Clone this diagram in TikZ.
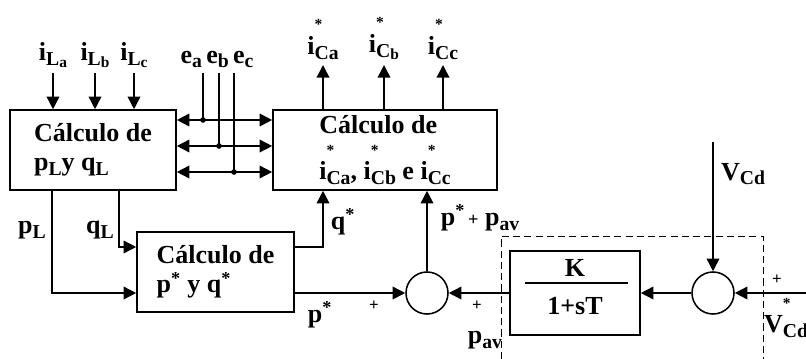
\documentclass[tikz,border=0pt]{standalone}
\usepackage{fontspec}
\setmainfont{Liberation Serif}
\usetikzlibrary{arrows.meta,calc}

% subscripts, second level subscripts and stars as printed in the figure
\newcommand{\lo}[1]{\raisebox{-0.4ex}{\fontsize{14}{14}\selectfont #1}}
\newcommand{\lolo}[1]{\raisebox{-0.25ex}{\fontsize{11}{11}\selectfont #1}}
\newcommand{\hi}{\raisebox{0.95em}{\fontsize{11}{11}\selectfont *}}
\newcommand{\starlo}[1]{\makebox[0pt][l]{\hi}\lo{#1}}

\begin{document}
\begin{tikzpicture}[
            x=0.025cm, y=-0.025cm,
            font=\fontsize{18.5}{21}\selectfont\bfseries,
            block/.style={draw, line width=1.1pt, align=left, minimum height=2cm, inner sep=2pt},
            sumnode/.style={draw, circle, line width=1.1pt, minimum size=1.05cm, inner sep=0pt},
            signal/.style={line width=1.1pt, -{Triangle[length=9pt,width=9pt]}},
            bus/.style={line width=1.1pt, {Triangle[length=9pt,width=9pt]}-{Triangle[length=9pt,width=9pt]}},
            wire/.style={line width=1.1pt},
            junction/.style={circle, fill, inner sep=0pt, minimum size=4pt},
            dashedbox/.style={line width=0.7pt, dash pattern=on 5pt off 3pt},
            plussign/.style={font=\fontsize{12}{14}\selectfont\bfseries}
        ]
            \useasboundingbox (0,0) rectangle (806,359);

            % blocks
            \node[block, minimum width=4.15cm] (pq) at (93,150) {Cálculo de\\p\lo{L}y q\lo{L}};
            \node[block, minimum width=5.6cm] (ic) at (385,150) {Cálculo de\\[7pt]i\starlo{Ca}, i\starlo{Cb} e i\starlo{Cc}};
            \node[block, minimum width=3.925cm] (pqs) at (215.5,272) {Cálculo de\\ p\textsuperscript{*} y q\textsuperscript{*}};
            \node[block, minimum width=3.25cm, minimum height=2.1cm] (kt) at (575,293) {};
            \node (kn) at (575,268) {K};
            \node (kd) at (575,306) {1+sT};
            \draw[wire] (525,283) -- (628,283);

            % summing points
            \node[sumnode] (s1) at (427,293) {};
            \node[sumnode] (s2) at (713,293) {};

            % load currents (top left)
            \foreach \x/\l in {53/a, 95/b, 134/c}{
                \coordinate (il\l) at (\x,73);
                \draw[signal] (il\l) -- (\x,0 |- pq.north);
                \node[above] (ill\l) at (il\l) {i\lo{L\lolo{\l}}};
            }

            % voltages and bus
            \foreach \y in {120, 146, 172}{
                \draw[bus] (pq.east |- 0,\y) -- (ic.west |- 0,\y);
            }
            \foreach \x/\y/\l in {203/120/a, 219/146/b, 234/172/c}{
                \coordinate (e\l) at (\x,73);
                \coordinate (j\l) at (\x,\y);
                \draw[wire] (e\l) -- (j\l);
                \node[junction] (jd\l) at (j\l) {};
            }
            \node[above] (el) at (217,73) {e\lo{a}\kern3pt e\lo{b}\kern3pt e\lo{c}};

            % reference currents (outputs)
            \draw[signal] (323,0 |- ic.north) -- (323,65) node[above] (oa) {i\starlo{Ca}};
            \draw[signal] (384,0 |- ic.north) -- (384,65) node[above] (ob) {i\starlo{C\lolo{b}}};
            \draw[signal] (443,0 |- ic.north) -- (443,65) node[above] (oc) {i\starlo{Cc}};

            % pL and qL
            \draw[signal] (52,0 |- pq.south) |- ($(pqs.west)+(0,21)$);
            \draw[signal] (119,0 |- pq.south) |- ($(pqs.west)+(0,-25)$);
            \node (pl) at (32,230) {p\lo{L}};
            \node (ql) at (100,230) {q\lo{L}};

            % q* and p*
            \draw[signal] ($(pqs.east)+(0,-25)$) -| (323,0 |- ic.south);
            \node (qs) at (343,222) {q\textsuperscript{*}};
            \draw[signal] ($(pqs.east)+(0,21)$) -- (s1.west);
            \node (ps) at (320,315) {p\textsuperscript{*}};
            \node[plussign] (pa) at (374,306) {+};

            \draw[signal] (s1.north) -- (s1.north |- ic.south);
            \node (psum) at (480,218) {p\textsuperscript{*}{\fontsize{13}{14}\selectfont\,+} p\lo{av}};

            % DC voltage loop
            \draw[signal] (kt.west) -- (s1.east);
            \node[plussign] (pb) at (477,306) {+};
            \node (pav) at (485,340) {p\lo{av}};
            \draw[signal] (s2.west) -- (kt.east);
            \coordinate (vcd) at (713,142);
            \draw[signal] (vcd) -- (s2.north);
            \node (vcdl) at (743,174) {V\lo{Cd}};
            \coordinate (vref) at (806,293);
            \draw[signal] (vref) -- (s2.east);
            \node[plussign] (pc) at (777,280) {+};
            \node (vrefl) at (786,318) {V\starlo{Cd}};

            % controller frame
            \draw[dashedbox] (501,359) -- (501,236) -- (763,236) -- (763,359);

        \end{tikzpicture}
\end{document}
